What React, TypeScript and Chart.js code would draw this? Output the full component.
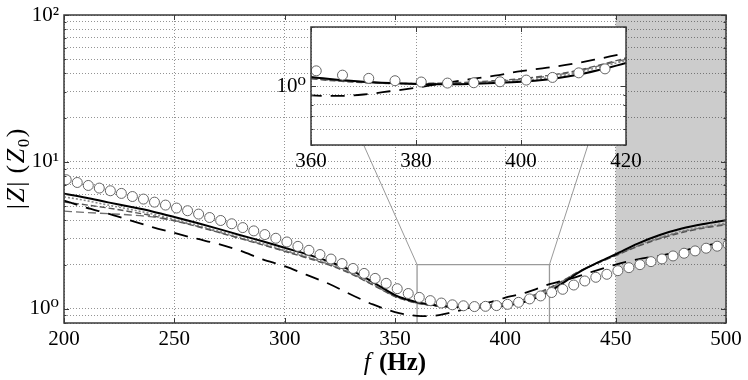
import React, { useEffect, useRef } from "react";
import { Chart, registerables } from "chart.js";

Chart.register(...registerables);

// ---------------- data ----------------
const FREQ = [200, 210, 220, 230, 240, 250, 260, 270, 280, 290, 300, 310, 320, 330, 340, 350, 355, 360, 365, 370, 375, 380, 385, 390, 395, 400, 405, 410, 415, 420, 425, 430, 435, 440, 445, 450, 460, 470, 480, 490, 500];

const SOLID = [6.07, 5.7, 5.3, 4.95, 4.6, 4.22, 3.85, 3.5, 3.17, 2.88, 2.6, 2.35, 2.1, 1.83, 1.52, 1.24, 1.16, 1.11, 1.075, 1.05, 1.035, 1.025, 1.02, 1.025, 1.035, 1.05, 1.08, 1.13, 1.21, 1.31, 1.46, 1.64, 1.83, 2.0, 2.17, 2.35, 2.78, 3.18, 3.52, 3.78, 4.0];

const LONG_DASH = [5.46, 4.88, 4.45, 4.0, 3.6, 3.28, 3.0, 2.76, 2.48, 2.17, 1.95, 1.7, 1.48, 1.25, 1.07, 0.95, 0.915, 0.895, 0.89, 0.905, 0.94, 0.98, 1.03, 1.08, 1.13, 1.19, 1.24, 1.3, 1.38, 1.47, 1.54, 1.61, 1.7, 1.8, 1.9, 2.0, 2.17, 2.3, 2.47, 2.68, 2.85];

const GRAY_DASHED = [5.32, 5.1, 4.85, 4.58, 4.3, 3.97, 3.64, 3.31, 3.0, 2.72, 2.46, 2.22, 1.99, 1.73, 1.45, 1.21, 1.14, 1.09, 1.06, 1.04, 1.03, 1.03, 1.035, 1.045, 1.065, 1.09, 1.13, 1.19, 1.28, 1.39, 1.52, 1.68, 1.84, 1.99, 2.14, 2.3, 2.66, 3.0, 3.3, 3.55, 3.72];

const GRAY_DOTTED = [5.78, 5.45, 5.08, 4.75, 4.42, 4.06, 3.72, 3.38, 3.06, 2.78, 2.51, 2.27, 2.03, 1.77, 1.48, 1.22, 1.15, 1.1, 1.07, 1.045, 1.03, 1.025, 1.025, 1.03, 1.045, 1.065, 1.1, 1.16, 1.25, 1.35, 1.49, 1.67, 1.84, 2.0, 2.16, 2.32, 2.7, 3.06, 3.38, 3.62, 3.82];

const GRAY_LOW = [4.62, 4.52, 4.44, 4.35, 4.22, 3.98, 3.66, 3.33, 3.02, 2.74, 2.48, 2.24, 2.01, 1.75, 1.46, 1.22, 1.145, 1.095, 1.065, 1.045, 1.035, 1.03, 1.03, 1.04, 1.055, 1.08, 1.12, 1.18, 1.27, 1.37, 1.51, 1.68, 1.85, 2.0, 2.15, 2.31, 2.68, 3.03, 3.34, 3.58, 3.76];

const MEAS_FREQ = [201, 206, 211, 216, 221, 226, 231, 236, 241, 246, 251, 256, 261, 266, 271, 276, 281, 286, 291, 296, 301, 306, 311, 316, 321, 326, 331, 336, 341, 346, 351, 356, 361, 366, 371, 376, 381, 386, 391, 396, 401, 406, 411, 416, 421, 426, 431, 436, 441, 446, 451, 456, 461, 466, 471, 476, 481, 486, 491, 496, 501];

const MEAS = [7.56, 7.24, 6.91, 6.63, 6.36, 6.1, 5.81, 5.58, 5.32, 5.08, 4.85, 4.65, 4.41, 4.18, 3.99, 3.79, 3.57, 3.39, 3.2, 3.02, 2.85, 2.66, 2.5, 2.34, 2.18, 2.03, 1.88, 1.74, 1.61, 1.49, 1.37, 1.27, 1.195, 1.136, 1.094, 1.064, 1.048, 1.035, 1.039, 1.051, 1.072, 1.106, 1.167, 1.223, 1.29, 1.357, 1.451, 1.546, 1.638, 1.717, 1.817, 1.905, 1.997, 2.094, 2.184, 2.289, 2.388, 2.477, 2.584, 2.667, 2.74];

const MAIN_X_TICKS = [200, 250, 300, 350, 400, 450, 500];
const MAIN_Y_GRID = [0.8, 0.9, 1, 2, 3, 4, 5, 6, 7, 8, 9, 10, 20, 30, 40, 50, 60, 70, 80, 90, 100];
const INSET_X_TICKS = [360, 380, 400, 420];
const INSET_Y_GRID = [0.5, 0.6, 0.7, 0.8, 0.9, 1, 2];
const Y_LABEL_VALUES = [1, 10, 100];
const Y_LABEL_TEXT = ["10\u2070", "10\u00b9", "10\u00b2"];

const MAIN_X_RANGE = [200, 500];
const MAIN_Y_RANGE = [0.8, 100];
const INSET_X_RANGE = [360, 420];
const INSET_Y_RANGE = [0.5, 2];
const SHADE_RANGE = [450, 500];

// ---------------- layout / style ----------------
const SERIF = '"Liberation Serif", "DejaVu Serif", serif';
const INSET_CANVAS = { left: 250, top: 0, width: 400, height: 185 };
const FRAME_COLOR = "#3a3a3a";
const GRID_COLOR = "rgba(0,0,0,0.42)";

function yLabel(v: any): string {
  const n = Number(v);
  const k = Y_LABEL_VALUES.findIndex((d) => Math.abs(d - n) < 1e-9);
  return k >= 0 ? Y_LABEL_TEXT[k] : "";
}

function makeDatasets() {
  const pts = (ys: number[]) => FREQ.map((f, i) => ({ x: f, y: ys[i] }));
  return [
    {
      label: "measured",
      data: MEAS_FREQ.map((f, i) => ({ x: f, y: MEAS[i] })),
      showLine: false,
      pointRadius: 5,
      pointStyle: "circle",
      pointBorderColor: "#666666",
      pointBackgroundColor: "#ffffff",
      pointBorderWidth: 1,
      borderColor: "#666666",
      backgroundColor: "#ffffff",
    },
    {
      label: "solid",
      data: pts(SOLID),
      borderColor: "#000000",
      borderWidth: 2,
      pointRadius: 0,
      cubicInterpolationMode: "monotone",
    },
    {
      label: "long dash",
      data: pts(LONG_DASH),
      borderColor: "#000000",
      borderWidth: 1.8,
      borderDash: [14, 9],
      pointRadius: 0,
      cubicInterpolationMode: "monotone",
    },
    {
      label: "gray dashed",
      data: pts(GRAY_DASHED),
      borderColor: "#555555",
      borderWidth: 1.4,
      borderDash: [6, 3],
      pointRadius: 0,
      cubicInterpolationMode: "monotone",
    },
    {
      label: "gray dotted",
      data: pts(GRAY_DOTTED),
      borderColor: "#8a8a8a",
      borderWidth: 1.6,
      borderDash: [2, 2],
      pointRadius: 0,
      cubicInterpolationMode: "monotone",
    },
    {
      label: "gray low",
      data: pts(GRAY_LOW),
      borderColor: "#707070",
      borderWidth: 1.4,
      borderDash: [8, 4],
      pointRadius: 0,
      cubicInterpolationMode: "monotone",
    },
  ];
}

function drawFrameAndTicks(chart: any) {
  const { ctx, chartArea: a, scales } = chart;
  const x = scales.x;
  const y = scales.y;
  ctx.save();
  ctx.strokeStyle = FRAME_COLOR;
  ctx.lineWidth = 1;
  ctx.beginPath();
  for (const t of x.ticks) {
    const px = Math.round(x.getPixelForValue(t.value)) + 0.5;
    ctx.moveTo(px, a.bottom);
    ctx.lineTo(px, a.bottom - 5);
    ctx.moveTo(px, a.top);
    ctx.lineTo(px, a.top + 5);
  }
  for (const t of y.ticks) {
    const py = Math.round(y.getPixelForValue(t.value)) + 0.5;
    const len = yLabel(t.value) ? 5 : 2.5;
    ctx.moveTo(a.left, py);
    ctx.lineTo(a.left + len, py);
    ctx.moveTo(a.right, py);
    ctx.lineTo(a.right - len, py);
  }
  ctx.stroke();
  ctx.lineWidth = 1.5;
  ctx.strokeRect(a.left, a.top, a.right - a.left, a.bottom - a.top);
  ctx.restore();
}

function axisConfig(kind: "x" | "y", opts: any) {
  return {
    type: kind === "x" ? "linear" : "logarithmic",
    min: opts.range[0],
    max: opts.range[1],
    afterBuildTicks: (s: any) => {
      s.ticks = opts.ticks.map((v: number) => ({ value: v }));
    },
    afterFit: (s: any) => {
      if (kind === "x") {
        s.height = opts.size;
        s.paddingLeft = 0;
        s.paddingRight = 0;
      } else {
        s.width = opts.size;
        s.paddingTop = 0;
        s.paddingBottom = 0;
      }
    },
    ticks: {
      autoSkip: false,
      maxRotation: 0,
      minRotation: 0,
      padding: kind === "x" ? 4 : 5,
      color: "#000000",
      font: { family: SERIF, size: 21 },
      callback: kind === "x" ? (v: any) => String(v) : (v: any) => yLabel(v),
    },
    grid: { color: GRID_COLOR, lineWidth: 1, drawTicks: false },
    border: { display: false, dash: [1, 2] },
  };
}

function drawParts(ctx: any, parts: [string, string, number][], cx: number, cy: number, gap: number) {
  let total = 0;
  for (const [t, f] of parts) {
    ctx.font = f;
    total += ctx.measureText(t).width + gap;
  }
  total -= gap;
  let px = cx - total / 2;
  for (const [t, f, dy] of parts) {
    ctx.font = f;
    ctx.fillText(t, px, cy + dy);
    px += ctx.measureText(t).width + gap;
  }
}

export default function App() {
  const mainRef = useRef<HTMLCanvasElement>(null);
  const insetRef = useRef<HTMLCanvasElement>(null);

  useEffect(() => {
    if (!mainRef.current || !insetRef.current) return;

    const insetPlugin = {
      id: "insetDecor",
      beforeDraw(chart: any) {
        const { ctx, chartArea: a } = chart;
        ctx.save();
        ctx.fillStyle = "#ffffff";
        ctx.fillRect(a.left, a.top, a.right - a.left, a.bottom - a.top);
        ctx.restore();
      },
      afterDraw(chart: any) {
        drawFrameAndTicks(chart);
      },
    };

    const inset = new Chart(insetRef.current, {
      type: "line",
      data: { datasets: makeDatasets() as any },
      options: {
        animation: false,
        responsive: false,
        maintainAspectRatio: false,
        events: [],
        layout: { padding: { top: 27, right: 24, left: 0, bottom: 0 } },
        plugins: { legend: { display: false }, tooltip: { enabled: false } },
        scales: {
          x: axisConfig("x", { range: INSET_X_RANGE, ticks: INSET_X_TICKS, size: 40 }),
          y: axisConfig("y", { range: INSET_Y_RANGE, ticks: INSET_Y_GRID, size: 61 }),
        } as any,
      },
      plugins: [insetPlugin],
    } as any);

    const mainPlugin = {
      id: "mainDecor",
      beforeDraw(chart: any) {
        const { ctx, chartArea: a, scales } = chart;
        ctx.save();
        ctx.fillStyle = "#ffffff";
        ctx.fillRect(0, 0, chart.width, chart.height);
        const x0 = scales.x.getPixelForValue(SHADE_RANGE[0]);
        const x1 = scales.x.getPixelForValue(SHADE_RANGE[1]);
        ctx.fillStyle = "#cccccc";
        ctx.fillRect(x0, a.top, x1 - x0, a.bottom - a.top);
        ctx.restore();
      },
      beforeDatasetsDraw(chart: any) {
        const { ctx, chartArea: a, scales } = chart;
        const x = scales.x;
        const y = scales.y;
        const rl = x.getPixelForValue(INSET_X_RANGE[0]);
        const rr = x.getPixelForValue(INSET_X_RANGE[1]);
        const rt = y.getPixelForValue(INSET_Y_RANGE[1]);
        const rb = Math.min(y.getPixelForValue(INSET_Y_RANGE[0]), a.bottom);
        const ia = inset.chartArea;
        const il = ia.left + INSET_CANVAS.left;
        const ir = ia.right + INSET_CANVAS.left;
        const it = ia.top + INSET_CANVAS.top;
        ctx.save();
        ctx.beginPath();
        ctx.rect(a.left, a.top, a.right - a.left, a.bottom - a.top);
        ctx.clip();
        ctx.strokeStyle = "#9a9a9a";
        ctx.lineWidth = 1.3;
        ctx.beginPath();
        ctx.moveTo(rl, rb);
        ctx.lineTo(rl, rt);
        ctx.lineTo(rr, rt);
        ctx.lineTo(rr, rb);
        ctx.stroke();
        ctx.lineWidth = 1;
        ctx.beginPath();
        ctx.moveTo(rl, rt);
        ctx.lineTo(il, it);
        ctx.moveTo(rr, rt);
        ctx.lineTo(ir, it);
        ctx.stroke();
        ctx.restore();
      },
      afterDraw(chart: any) {
        drawFrameAndTicks(chart);
        const { ctx, chartArea: a } = chart;
        ctx.save();
        ctx.fillStyle = "#000000";
        ctx.textBaseline = "alphabetic";
        // x title: f (Hz)
        drawParts(
          ctx,
          [
            ["f", `italic 25px ${SERIF}`, 0],
            [" ", `25px ${SERIF}`, 0],
            ["(Hz)", `bold 25px ${SERIF}`, 0],
          ],
          (a.left + a.right) / 2,
          370,
          1
        );
        // y title: |Z| (Z0)
        ctx.translate(24, (a.top + a.bottom) / 2);
        ctx.rotate(-Math.PI / 2);
        drawParts(
          ctx,
          [
            ["|", `26px ${SERIF}`, 0],
            ["Z", `italic 26px ${SERIF}`, 0],
            ["|", `26px ${SERIF}`, 0],
            [" (", `26px ${SERIF}`, 0],
            ["Z", `italic 26px ${SERIF}`, 0],
            ["0", `17px ${SERIF}`, 5],
            [")", `26px ${SERIF}`, 0],
          ],
          0,
          0,
          1.5
        );
        ctx.restore();
      },
    };

    const main = new Chart(mainRef.current, {
      type: "line",
      data: { datasets: makeDatasets() as any },
      options: {
        animation: false,
        responsive: false,
        maintainAspectRatio: false,
        events: [],
        layout: { padding: { top: 15, right: 22, left: 0, bottom: 0 } },
        plugins: { legend: { display: false }, tooltip: { enabled: false } },
        scales: {
          x: axisConfig("x", { range: MAIN_X_RANGE, ticks: MAIN_X_TICKS, size: 57 }),
          y: axisConfig("y", { range: MAIN_Y_RANGE, ticks: MAIN_Y_GRID, size: 64 }),
        } as any,
      },
      plugins: [mainPlugin],
    } as any);

    return () => {
      main.destroy();
      inset.destroy();
    };
  }, []);

  return (
    <div style={{ position: "fixed", left: 0, top: 0, width: 748, height: 380, background: "#ffffff" }}>
      <canvas
        ref={mainRef}
        width={748}
        height={380}
        style={{ position: "absolute", left: 0, top: 0, width: 748, height: 380 }}
      />
      <canvas
        ref={insetRef}
        width={INSET_CANVAS.width}
        height={INSET_CANVAS.height}
        style={{
          position: "absolute",
          left: INSET_CANVAS.left,
          top: INSET_CANVAS.top,
          width: INSET_CANVAS.width,
          height: INSET_CANVAS.height,
        }}
      />
    </div>
  );
}
